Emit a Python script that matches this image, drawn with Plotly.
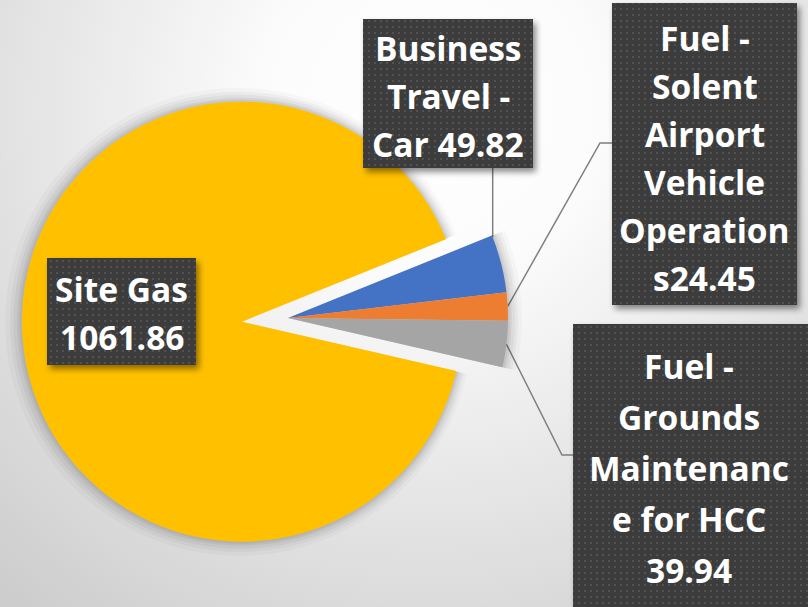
import base64
import math
import plotly.graph_objects as go

# ---------------- data ----------------
categories = [
    "Business Travel - Car",
    "Fuel - Solent Airport Vehicle Operations",
    "Fuel - Grounds Maintenance for HCC",
    "Site Gas",
]
values = [49.82, 24.45, 39.94, 1061.86]
colors = ["#4472C4", "#ED7D31", "#A5A5A5", "#FFC000"]
pulls = [0, 0, 0, 0.21]
label_lines = [
    ["Business", "Travel -", "Car 49.82"],
    ["Fuel -", "Solent", "Airport", "Vehicle", "Operation", "s24.45"],
    ["Fuel -", "Grounds", "Maintenanc", "e for HCC", "39.94"],
    ["Site Gas", "1061.86"],
]

# ---------------- layout geometry (pixels) ----------------
W, H = 808, 607
CX, CY, R = 288, 318, 220
ROT = 68
MAXPULL = max(pulls)

# label boxes: x0, y0, x1, y1, first line centre, line spacing
boxes = [
    (363, 19, 533, 168, 47, 48),
    (612, 3, 797, 305, 37, 48),
    (573, 324, 812, 612, 365, 51),
    (47, 258, 196, 365, 288, 48),
]


def px(x):
    return x / W


def py(y):
    return 1 - y / H


def domain(grow=0.0):
    half = (R + grow) * (1 + MAXPULL)
    return dict(x=[px(CX - half), px(CX + half)], y=[py(CY + half), py(CY - half)])


fig = go.Figure()

# soft shadow under the pie
for g, a in [(14, 0.025), (10, 0.035), (7, 0.045), (4, 0.05), (2, 0.05)]:
    fig.add_trace(go.Pie(
        values=values, labels=categories, sort=False, direction="clockwise",
        rotation=ROT, pull=pulls, domain=domain(g), textinfo="none",
        hoverinfo="skip", showlegend=False,
        marker=dict(colors=[f"rgba(0,0,0,{a})"] * len(values), line=dict(width=0)),
    ))

fig.add_trace(go.Pie(
    values=values, labels=categories, sort=False, direction="clockwise",
    rotation=ROT, pull=pulls, domain=domain(0), textinfo="none",
    showlegend=False, marker=dict(colors=colors, line=dict(width=0)),
))

# ---------------- background gradient + label boxes as svg images ----------------
bg_svg = f'''<svg xmlns="http://www.w3.org/2000/svg" width="{W}" height="{H}" viewBox="0 0 {W} {H}">
<defs><radialGradient id="g" cx="430" cy="110" r="640" gradientUnits="userSpaceOnUse">
<stop offset="0" stop-color="#ffffff"/><stop offset="0.25" stop-color="#fcfcfc"/>
<stop offset="1" stop-color="#cdcdcd"/></radialGradient></defs>
<rect width="{W}" height="{H}" fill="url(#g)"/></svg>'''

rects = ""
for (x0, y0, x1, y1, _, _) in boxes:
    rects += (f'<rect x="{x0 + 3}" y="{y0 + 4}" width="{x1 - x0}" height="{y1 - y0}" '
              f'fill="#000" opacity="0.45" filter="url(#sh)"/>')
for (x0, y0, x1, y1, _, _) in boxes:
    rects += f'<rect x="{x0}" y="{y0}" width="{x1 - x0}" height="{y1 - y0}" fill="url(#dots)"/>'

box_svg = f'''<svg xmlns="http://www.w3.org/2000/svg" width="{W}" height="{H}" viewBox="0 0 {W} {H}">
<defs>
<pattern id="dots" width="6" height="6" patternUnits="userSpaceOnUse">
<rect width="6" height="6" fill="#3c3c3c"/><rect x="2" y="2" width="2" height="2" fill="#525252"/></pattern>
<filter id="sh" x="-30%" y="-30%" width="160%" height="160%"><feGaussianBlur stdDeviation="3"/></filter>
</defs>{rects}</svg>'''


def uri(svg):
    return "data:image/svg+xml;base64," + base64.b64encode(svg.encode()).decode()


images = [
    dict(source=uri(bg_svg), xref="paper", yref="paper", x=0, y=1, sizex=1, sizey=1,
         xanchor="left", yanchor="top", sizing="stretch", layer="below"),
    dict(source=uri(box_svg), xref="paper", yref="paper", x=0, y=1, sizex=1, sizey=1,
         xanchor="left", yanchor="top", sizing="stretch", layer="above"),
]

# ---------------- leader lines anchored on slices ----------------
total = sum(values)
starts = []
acc = 0.0
for v in values:
    starts.append(ROT + 360 * acc / total)
    acc += v


def edge_point(ang):
    a = math.radians(ang)
    return CX + R * math.sin(a), CY - R * math.cos(a)


mids = [starts[i] + 180 * values[i] / total for i in range(len(values))]
b_anchor = edge_point(starts[0] + 0.5)
o_anchor = edge_point(mids[1])
g_anchor = edge_point(mids[2])

leaders = [
    [b_anchor, (b_anchor[0], boxes[0][3])],
    [o_anchor, (600, 143), (boxes[1][0], 143)],
    [g_anchor, (562, 455), (boxes[2][0], 455)],
]
shapes = []
for pts in leaders:
    path = "M " + " L ".join(f"{px(x)},{py(y)}" for x, y in pts)
    shapes.append(dict(type="path", path=path, xref="paper", yref="paper",
                       line=dict(color="#7f7f7f", width=1.5), layer="below"))

# ---------------- label text ----------------
annotations = []
for lines, (x0, y0, x1, y1, first, step) in zip(label_lines, boxes):
    xc = (x0 + x1) / 2 if x1 <= W else (x0 + 805) / 2
    for i, t in enumerate(lines):
        annotations.append(dict(
            text=t, x=px(xc), y=py(first + i * step + 1), xref="paper", yref="paper",
            showarrow=False, xanchor="center", yanchor="middle",
            font=dict(family="Open Sans", size=33.5, color="#ffffff", weight="bold"),
        ))

fig.update_layout(
    width=W, height=H, margin=dict(l=0, r=0, t=0, b=0),
    paper_bgcolor="#ffffff", plot_bgcolor="rgba(0,0,0,0)",
    images=images, shapes=shapes, annotations=annotations, showlegend=False,
)

fig.write_html(
    "out.html",
    config={"displayModeBar": False},
    post_script="document.body.style.margin='0';document.body.style.padding='0';",
)
